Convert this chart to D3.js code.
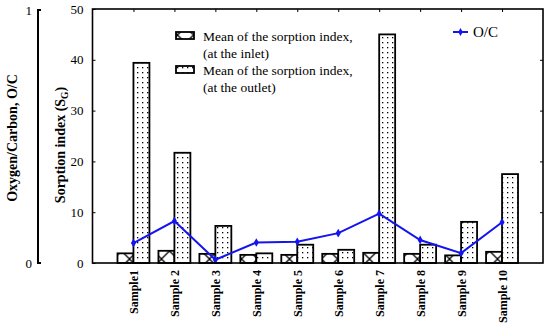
<!DOCTYPE html>
<html>
<head>
<meta charset="utf-8">
<script src="https://cdn.jsdelivr.net/npm/d3@7"></script>
<style>
  body { margin: 0; background: #fff; }
  svg { display: block; }
  svg text { font-family: 'Liberation Serif', 'Times New Roman', serif; }
</style>
</head>
<body>
<div class="container"></div>
<script>
// values
const samples = ['Sample1', 'Sample 2', 'Sample 3', 'Sample 4', 'Sample 5',
                 'Sample 6', 'Sample 7', 'Sample 8', 'Sample 9', 'Sample 10'];
const inletSG = [1.9, 2.4, 1.8, 1.6, 1.6, 1.8, 2.0, 1.8, 1.5, 2.2];
const outletSG = [39.4, 21.7, 7.3, 1.9, 3.6, 2.6, 45.0, 3.6, 8.1, 17.5];
const ocRatio = [0.079, 0.166, 0.013, 0.081, 0.084, 0.118, 0.195, 0.091, 0.039, 0.161];
const sgTicks = [0, 10, 20, 30, 40, 50];
const ocTicks = [0, 1];

const width = 550;
const height = 331;
const margin = {top: 9, right: 7, bottom: 68, left: 92.5};
const serif = "'Liberation Serif', 'Times New Roman', serif";

const svg = d3.select('.container').append('svg')
    .attr('width', width)
    .attr('height', height);

const defs = svg.append('defs');

// crosshatch for inlet bars
const hatch = defs.append('pattern')
    .attr('id', 'hatchX')
    .attr('patternUnits', 'userSpaceOnUse')
    .attr('width', 16)
    .attr('height', 16)
    .attr('x', 1.5)
    .attr('y', 3);
hatch.append('rect').attr('width', 16).attr('height', 16).attr('fill', '#fff');
hatch.append('path')
    .attr('d', 'M0,0L16,16M16,0L0,16')
    .attr('stroke', '#000')
    .attr('stroke-width', 1.3);

// dots for outlet bars
const dots = defs.append('pattern')
    .attr('id', 'dots')
    .attr('patternUnits', 'userSpaceOnUse')
    .attr('width', 5)
    .attr('height', 5);
dots.append('rect').attr('width', 5).attr('height', 5).attr('fill', '#fff');
dots.append('rect').attr('x', 2).attr('y', 2).attr('width', 1.3).attr('height', 1.3).attr('fill', '#000');

const x = d3.scalePoint()
    .domain(samples)
    .range([margin.left, width - margin.right])
    .padding(1);

const y = d3.scaleLinear()
    .domain([0, 50])
    .range([height - margin.bottom, margin.top]);

const yOC = d3.scaleLinear()
    .domain([0, 1])
    .range([height - margin.bottom, margin.top + 1]);

const barW = x.step() * 0.39;
const x0 = margin.left, x1 = width - margin.right;
const y0 = height - margin.bottom, y1 = margin.top;

const rows = samples.map((s, i) => ({s, inlet: inletSG[i], outlet: outletSG[i], oc: ocRatio[i]}));

// bars
svg.append('g').selectAll('rect')
    .data(rows)
    .enter()
    .append('rect')
    .attr('x', d => x(d.s) - barW)
    .attr('y', d => y(d.inlet))
    .attr('width', barW)
    .attr('height', d => y(0) - y(d.inlet))
    .attr('fill', 'url(#hatchX)')
    .attr('stroke', '#000')
    .attr('stroke-width', 1.8);

svg.append('g').selectAll('rect')
    .data(rows)
    .enter()
    .append('rect')
    .attr('x', d => x(d.s))
    .attr('y', d => y(d.outlet))
    .attr('width', barW)
    .attr('height', d => y(0) - y(d.outlet))
    .attr('fill', 'url(#dots)')
    .attr('stroke', '#000')
    .attr('stroke-width', 1.8);

// O/C line
const line = d3.line()
    .x(d => x(d.s))
    .y(d => yOC(d.oc));

svg.append('path')
    .datum(rows)
    .attr('d', line)
    .attr('fill', 'none')
    .attr('stroke', '#1414f0')
    .attr('stroke-width', 2);

svg.append('g').selectAll('path')
    .data(rows)
    .enter()
    .append('path')
    .attr('d', d3.symbol(d3.symbolDiamond, 22))
    .attr('transform', d => `translate(${x(d.s)},${yOC(d.oc)})`)
    .attr('fill', '#1414f0');

// frame
svg.append('rect')
    .attr('x', x0)
    .attr('y', y1)
    .attr('width', x1 - x0)
    .attr('height', y0 - y1)
    .attr('fill', 'none')
    .attr('stroke', '#000')
    .attr('stroke-width', 1.6);

// inward ticks
const leftAxis = svg.append('g')
    .attr('transform', `translate(${x0},0)`)
    .call(d3.axisLeft(y).tickValues(sgTicks).tickSizeInner(-3).tickSizeOuter(0).tickPadding(9));
leftAxis.select('.domain').remove();
leftAxis.selectAll('text').attr('font-family', serif).attr('font-size', 13);

const rightAxis = svg.append('g')
    .attr('transform', `translate(${x1},0)`)
    .call(d3.axisRight(y).tickValues(sgTicks.slice(1, -1)).tickSizeInner(-3).tickSizeOuter(0).tickFormat(''));
rightAxis.select('.domain').remove();

const topAxis = svg.append('g')
    .attr('transform', `translate(0,${y1})`)
    .call(d3.axisTop(x).tickSizeInner(-3).tickSizeOuter(0).tickFormat(''));
topAxis.select('.domain').remove();

const bottomAxis = svg.append('g')
    .attr('transform', `translate(0,${y0})`)
    .call(d3.axisBottom(x).tickSizeInner(0).tickSizeOuter(0));
bottomAxis.select('.domain').remove();
bottomAxis.selectAll('text')
    .attr('transform', 'rotate(-90)')
    .attr('x', -7)
    .attr('y', 0)
    .attr('dy', '0.35em')
    .attr('text-anchor', 'end')
    .attr('font-family', serif)
    .attr('font-size', 12)
    .attr('font-weight', 'bold');

// O/C axis, detached bracket on the far left
const ocX = 38;
svg.append('path')
    .attr('d', `M${ocX + 3},${yOC(1)}H${ocX}V${yOC(0)}H${ocX + 3}`)
    .attr('fill', 'none')
    .attr('stroke', '#000')
    .attr('stroke-width', 2);

svg.append('g').selectAll('text')
    .data(ocTicks)
    .enter()
    .append('text')
    .attr('x', ocX - 6)
    .attr('y', d => yOC(d))
    .attr('dy', '0.35em')
    .attr('text-anchor', 'end')
    .attr('font-family', serif)
    .attr('font-size', 13)
    .text(d => d);

// axis titles
svg.append('text')
    .attr('transform', `translate(17,${(y0 + y1) / 2 + 2}) rotate(-90)`)
    .attr('text-anchor', 'middle')
    .attr('font-family', serif)
    .attr('font-size', 14)
    .attr('font-weight', 'bold')
    .text('Oxygen/Carbon, O/C');

const sgTitle = svg.append('text')
    .attr('transform', `translate(65,${(y0 + y1) / 2 + 9}) rotate(-90)`)
    .attr('text-anchor', 'middle')
    .attr('font-family', serif)
    .attr('font-size', 14)
    .attr('font-weight', 'bold');
sgTitle.append('tspan').text('Sorption index (S');
sgTitle.append('tspan').attr('dy', 3).attr('font-size', 9.5).text('G');
sgTitle.append('tspan').attr('dy', -3).text(')');

// legend
const legend = svg.append('g');
const legendItems = [
    {fill: 'url(#hatchX)', lines: ['Mean of the sorption index,', '(at the inlet)'], y: 32},
    {fill: 'url(#dots)', lines: ['Mean of the sorption index,', '(at the outlet)'], y: 66}
];
legendItems.forEach(item => {
    legend.append('rect')
        .attr('x', 176)
        .attr('y', item.y)
        .attr('width', 18)
        .attr('height', 7)
        .attr('fill', item.fill)
        .attr('stroke', '#000')
        .attr('stroke-width', 1.8);
    item.lines.forEach((t, j) => {
        legend.append('text')
            .attr('x', 203)
            .attr('y', item.y + 9 + j * 17)
            .attr('font-family', serif)
            .attr('font-size', 13.5)
            .text(t);
    });
});

legend.append('line')
    .attr('x1', 453).attr('x2', 468)
    .attr('y1', 32).attr('y2', 32)
    .attr('stroke', '#1414f0')
    .attr('stroke-width', 2);
legend.append('path')
    .attr('d', d3.symbol(d3.symbolDiamond, 18))
    .attr('transform', 'translate(460.5,32)')
    .attr('fill', '#1414f0');
legend.append('text')
    .attr('x', 473)
    .attr('y', 37)
    .attr('font-family', serif)
    .attr('font-size', 15)
    .text('O/C');
</script>
</body>
</html>
